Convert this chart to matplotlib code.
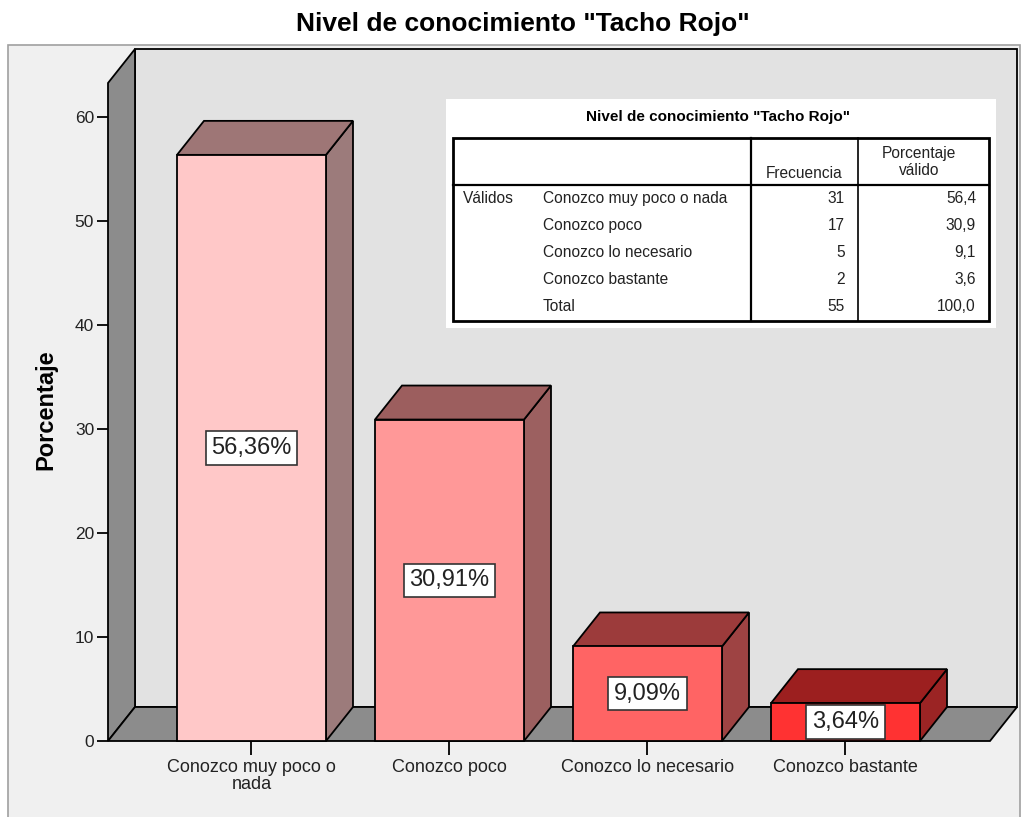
import matplotlib
matplotlib.use("Agg")
import matplotlib.pyplot as plt
from matplotlib.patches import Polygon, Rectangle

plt.rcParams['font.family'] = ['Liberation Sans', 'DejaVu Sans']

# ---- data ----
title = 'Nivel de conocimiento "Tacho Rojo"'
categories = ["Conozco muy poco o\nnada", "Conozco poco", "Conozco lo necesario", "Conozco bastante"]
table_labels = ["Conozco muy poco o nada", "Conozco poco", "Conozco lo necesario", "Conozco bastante"]
frequencies = [31, 17, 5, 2]
total = 55
percent_labels = [56.36, 30.91, 9.09, 3.64]
percent_valid = [56.4, 30.9, 9.1, 3.6]
yticks = [0, 10, 20, 30, 40, 50, 60]

front_colors = ["#ffc8c8", "#ff9898", "#ff6464", "#ff3232"]
top_colors = ["#9e7676", "#9c5e5e", "#9c3b3b", "#9c1f1f"]
side_colors = ["#9c7b7b", "#9c6060", "#9e4343", "#9b2424"]

W, H = 1027, 817
fig = plt.figure(figsize=(W / 100, H / 100), dpi=100)
fig.patch.set_facecolor("white")

# background frame (pixel coordinates)
bg = fig.add_axes([0, 0, 1, 1])
bg.set_xlim(0, W)
bg.set_ylim(H, 0)
bg.axis("off")
bg.set_zorder(-5)
bg.add_patch(Rectangle((8, 45), 1012, 790, facecolor="#f0f0f0", edgecolor="#a0a0a0", lw=1.2))

ax = fig.add_axes([108 / W, 76 / H, 882 / W, 658 / H])
ax.set_zorder(1)
x0, x1 = -0.7247, 3.7298
ytop = 63.27
ax.set_xlim(x0, x1)
ax.set_ylim(0, ytop)
ax.patch.set_visible(False)
for s in ax.spines.values():
    s.set_visible(False)

DX = 27 / 198.0
DY = 34 / 10.4
wall = "#8c8c8c"
ec = "black"

def poly(pts, fc, z):
    ax.add_patch(Polygon(pts, closed=True, facecolor=fc, edgecolor=ec, lw=1.3,
                         clip_on=False, zorder=z, joinstyle="miter"))

# walls and floor
poly([(x0 + DX, DY), (x0 + DX, ytop + DY), (x1 + DX, ytop + DY), (x1 + DX, DY)], "#e2e2e2", 1)
poly([(x0, 0), (x0, ytop), (x0 + DX, ytop + DY), (x0 + DX, DY)], wall, 2)
poly([(x0, 0), (x1, 0), (x1 + DX, DY), (x0 + DX, DY)], wall, 2)

bw = 0.7525
for i, v in enumerate(percent_labels):
    l, r = i - bw / 2, i + bw / 2
    poly([(r, 0), (r + DX, DY), (r + DX, v + DY), (r, v)], side_colors[i], 3)
    poly([(l, v), (l + DX, v + DY), (r + DX, v + DY), (r, v)], top_colors[i], 3)
    poly([(l, 0), (l, v), (r, v), (r, 0)], front_colors[i], 4)
    lab = f"{v:.2f}".replace(".", ",") + "%"
    ax.text(i, v / 2, lab, ha="center", va="center", fontsize=17, color="#222222", zorder=6,
            bbox=dict(boxstyle="square,pad=0.24", facecolor="white", edgecolor="#333333", lw=1.2))

ax.set_yticks(yticks)
ax.set_yticklabels([str(t) for t in yticks], fontsize=12.5, color="#222222")
ax.set_xticks(range(len(categories)))
ax.set_xticklabels(categories, fontsize=13, color="#222222", linespacing=1.0)
ax.tick_params(axis="y", direction="out", length=8, width=1.3, pad=2)
ax.tick_params(axis="x", direction="out", length=10, width=1.3, pad=3)
ax.set_ylabel("Porcentaje", fontsize=17, fontweight="bold")
ax.yaxis.set_label_coords(-0.0575, 0.503)

fig.text(523 / W, 1 - 24 / H, title, ha="center", va="center", fontsize=19, fontweight="bold")

# ---- table ----
tax = fig.add_axes([0, 0, 1, 1])
tax.set_xlim(0, W)
tax.set_ylim(H, 0)
tax.axis("off")
tax.set_zorder(10)
tax.add_patch(Rectangle((446, 99), 550, 229, facecolor="white", edgecolor="none"))
tax.text(718, 117, title, ha="center", va="center", fontsize=11, fontweight="bold")
tax.add_patch(Rectangle((453, 138), 536, 183, facecolor="none", edgecolor="black", lw=2))
tax.plot([751, 751], [138, 321], color="black", lw=1.6)
tax.plot([858, 858], [138, 321], color="black", lw=1.2)
tax.plot([453, 989], [185, 185], color="black", lw=1.6)
fs = 11.2
tax.text(804, 173, "Frecuencia", ha="center", va="center", fontsize=fs, color="#222222")
tax.text(919, 162, "Porcentaje\nválido", ha="center", va="center", fontsize=fs, color="#222222",
         linespacing=1.1)
rows_y = [198, 225, 252, 279, 306]
tax.text(463, rows_y[0], "Válidos", ha="left", va="center", fontsize=fs, color="#222222")
names = table_labels + ["Total"]
freqs = frequencies + [total]
pcts = [f"{p:.1f}".replace(".", ",") for p in percent_valid] + ["100,0"]
for y, n, f, p in zip(rows_y, names, freqs, pcts):
    tax.text(543, y, n, ha="left", va="center", fontsize=fs, color="#222222")
    tax.text(845, y, str(f), ha="right", va="center", fontsize=fs, color="#222222")
    tax.text(976, y, p, ha="right", va="center", fontsize=fs, color="#222222")

fig.savefig("out.png", dpi=100)
